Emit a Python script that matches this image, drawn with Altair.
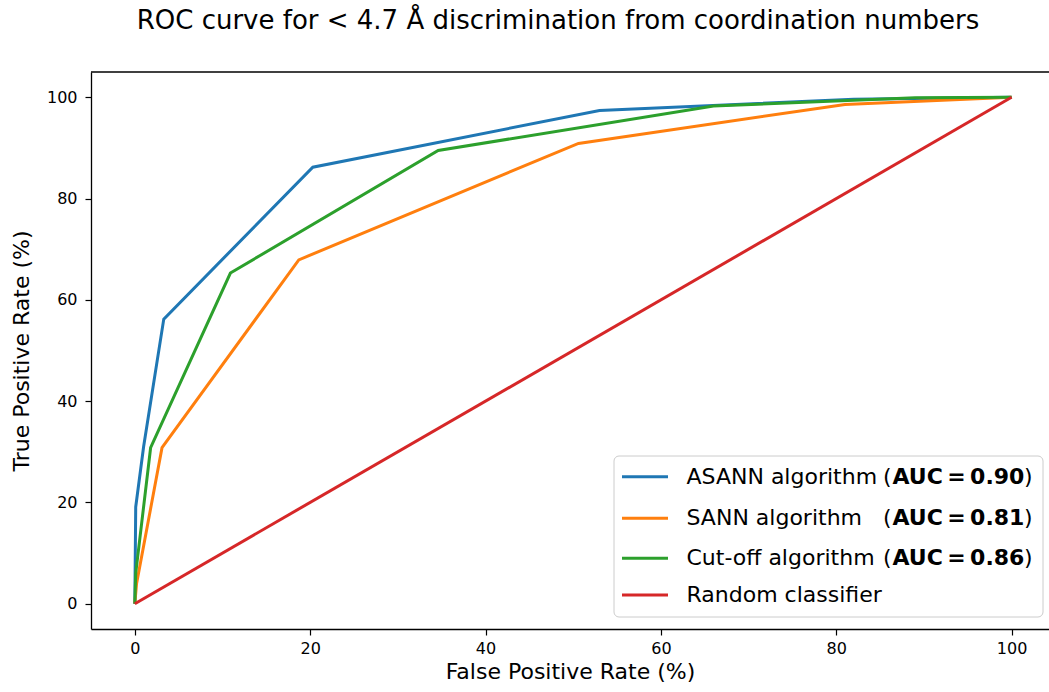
import altair as alt
import pandas as pd

# ---------------- data ----------------
SERIES = ["ASANN algorithm", "SANN algorithm", "Cut-off algorithm", "Random classifier"]
AUC = ["0.90", "0.81", "0.86", ""]
COLORS = ["#1f77b4", "#ff7f0e", "#2ca02c", "#d62728"]

ASANN_FPR = [0, 0.1, 1.0, 3.3, 20.3, 53.0, 82.0, 100]
ASANN_TPR = [0, 19.1, 31.0, 56.2, 86.2, 97.4, 99.6, 100]

SANN_FPR = [0, 0.2, 3.1, 18.7, 50.6, 81.0, 100]
SANN_TPR = [0, 4.0, 30.8, 67.9, 90.9, 98.6, 100]

CUT_FPR = [0, 0.1, 1.8, 10.9, 34.6, 66.0, 89.0, 100]
CUT_TPR = [0, 6.0, 30.8, 65.3, 89.5, 98.3, 99.9, 100]

RAND_FPR = [0, 100]
RAND_TPR = [0, 100]

TICKS = [0, 20, 40, 60, 80, 100]

FPRS = [ASANN_FPR, SANN_FPR, CUT_FPR, RAND_FPR]
TPRS = [ASANN_TPR, SANN_TPR, CUT_TPR, RAND_TPR]

# ---------------- layout (pixels) ----------------
W, H = 958, 557
FONT = "DejaVu Sans"

rows = []
for name, fx, ty in zip(SERIES, FPRS, TPRS):
    for i, (a, b) in enumerate(zip(fx, ty)):
        rows.append({"series": name, "fpr": a, "tpr": b, "idx": i})
df = pd.DataFrame(rows)

xscale = alt.Scale(domain=[-5, 104.27], nice=False, zero=False)
yscale = alt.Scale(domain=[-5, 105], nice=False, zero=False)

xaxis = alt.Axis(values=TICKS, title="False Positive Rate (%)", grid=False,
                 domain=True, domainColor="black", domainWidth=1.3,
                 tickColor="black", tickSize=6, tickWidth=1.2,
                 labelFontSize=16, labelColor="black", labelPadding=5,
                 titleFontSize=22, titleFontWeight="normal", titleColor="black",
                 titlePadding=5, labelFont=FONT, titleFont=FONT, format="d")
yaxis = alt.Axis(values=TICKS, title="True Positive Rate (%)", grid=False,
                 domain=True, domainColor="black", domainWidth=1.3,
                 tickColor="black", tickSize=6, tickWidth=1.2,
                 labelFontSize=16, labelColor="black", labelPadding=8,
                 titleFontSize=22, titleFontWeight="normal", titleColor="black",
                 titlePadding=13, labelFont=FONT, titleFont=FONT, format="d")

layers = []
for k, (name, col) in enumerate(zip(SERIES, COLORS)):
    sub = df[df["series"] == name]
    layers.append(
        alt.Chart(sub).mark_line(color=col, strokeWidth=3, clip=True).encode(
            x=alt.X("fpr:Q", scale=xscale, axis=xaxis),
            y=alt.Y("tpr:Q", scale=yscale, axis=yaxis),
            order="idx:Q",
        )
    )

one = pd.DataFrame({"d": [0]})

# top spine
layers.append(alt.Chart(one).mark_rule(color="black", strokeWidth=1.3).encode(
    x=alt.value(0), x2=alt.value(W), y=alt.value(0)))

# legend frame
LX0, LX1, LY0, LY1 = 523, 952, 384, 545
layers.append(alt.Chart(one).mark_rect(
    fill="white", fillOpacity=0.85, stroke="#cccccc", strokeWidth=1, cornerRadius=5
).encode(x=alt.value(LX0), x2=alt.value(LX1), y=alt.value(LY0), y2=alt.value(LY1)))

ROW_Y = [404.7, 446.3, 486.3, 523.0]
SW_X0, SW_X1 = 531, 577
TX = 595.5
PAREN_X = 792
BOLD_X = 801.5
CLOSE_X = 933
LFS = 22

for name, auc, col, ry in zip(SERIES, AUC, COLORS, ROW_Y):
    layers.append(alt.Chart(one).mark_rule(color=col, strokeWidth=3).encode(
        x=alt.value(SW_X0), x2=alt.value(SW_X1), y=alt.value(ry)))
    layers.append(alt.Chart(one).mark_text(
        text=name, align="left", baseline="middle", font=FONT, fontSize=LFS, color="#000000"
    ).encode(x=alt.value(TX), y=alt.value(ry)))
    if auc:
        layers.append(alt.Chart(one).mark_text(
            text="(", align="left", baseline="middle", font=FONT, fontSize=LFS, color="#000000"
        ).encode(x=alt.value(PAREN_X), y=alt.value(ry)))
        layers.append(alt.Chart(one).mark_text(
            text="AUC\u2009=\u2009" + auc, align="left", baseline="middle", font=FONT,
            fontSize=LFS, fontWeight="bold", color="#000000"
        ).encode(x=alt.value(BOLD_X), y=alt.value(ry)))
        layers.append(alt.Chart(one).mark_text(
            text=")", align="left", baseline="middle", font=FONT, fontSize=LFS, color="#000000"
        ).encode(x=alt.value(CLOSE_X), y=alt.value(ry)))

chart = alt.layer(*layers).properties(
    width=W, height=H,
    padding={"left": 91, "top": 72, "right": 0, "bottom": 63},
    autosize=alt.AutoSizeParams(type="none"),
    title=alt.TitleParams(
        "ROC curve for  < 4.7 Å discrimination from coordination numbers",
        font=FONT, fontSize=26, fontWeight="normal", color="black",
        anchor="middle", dx=-12, offset=16, baseline="alphabetic",
    ),
    background="white",
).configure_view(stroke=None)

chart.save("out.html", embed_options={"renderer": "svg", "actions": False})
